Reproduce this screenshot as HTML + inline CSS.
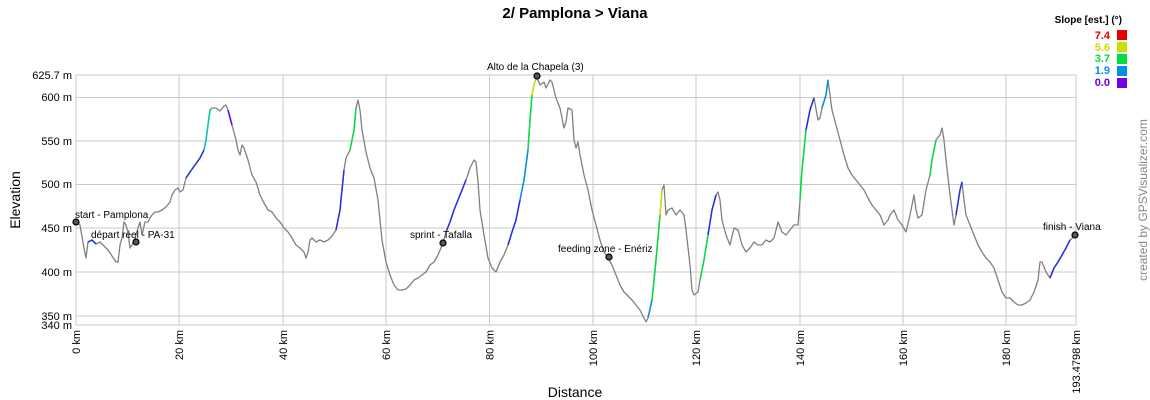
<!DOCTYPE html>
<html><head><meta charset="utf-8"><style>
html,body{margin:0;padding:0;background:#fff;}
svg{display:block;font-family:"Liberation Sans",Arial,sans-serif;}
</style></head><body>
<svg width="1150" height="400" xmlns="http://www.w3.org/2000/svg">
<rect width="1150" height="400" fill="#fff"/>
<text x="575" y="18" font-size="15" font-weight="bold" text-anchor="middle">2/ Pamplona &gt; Viana</text>
<g stroke="#c8c8c8" stroke-width="1">
<line x1="76" y1="75" x2="1076" y2="75"/><line x1="76" y1="97.5" x2="1076" y2="97.5"/><line x1="76" y1="141" x2="1076" y2="141"/><line x1="76" y1="184.5" x2="1076" y2="184.5"/><line x1="76" y1="228" x2="1076" y2="228"/><line x1="76" y1="272" x2="1076" y2="272"/><line x1="76" y1="316" x2="1076" y2="316"/><line x1="76" y1="325" x2="1076" y2="325"/>
<line x1="76" y1="75" x2="76" y2="325"/><line x1="179" y1="75" x2="179" y2="325"/><line x1="283" y1="75" x2="283" y2="325"/><line x1="386" y1="75" x2="386" y2="325"/><line x1="489.5" y1="75" x2="489.5" y2="325"/><line x1="593" y1="75" x2="593" y2="325"/><line x1="696" y1="75" x2="696" y2="325"/><line x1="800" y1="75" x2="800" y2="325"/><line x1="903" y1="75" x2="903" y2="325"/><line x1="1006" y1="75" x2="1006" y2="325"/><line x1="1076" y1="75" x2="1076" y2="325"/>
</g>
<g font-size="11" text-anchor="end">
<text x="72" y="79">625.7 m</text><text x="72" y="101">600 m</text><text x="72" y="145">550 m</text><text x="72" y="188">500 m</text><text x="72" y="232">450 m</text><text x="72" y="276">400 m</text><text x="72" y="320">350 m</text><text x="72" y="329">340 m</text>
</g>
<g font-size="11" text-anchor="end">
<text transform="translate(80,330) rotate(-90)">0 km</text>
<text transform="translate(183,330) rotate(-90)">20 km</text>
<text transform="translate(287,330) rotate(-90)">40 km</text>
<text transform="translate(390,330) rotate(-90)">60 km</text>
<text transform="translate(493.5,330) rotate(-90)">80 km</text>
<text transform="translate(597,330) rotate(-90)">100 km</text>
<text transform="translate(700,330) rotate(-90)">120 km</text>
<text transform="translate(804,330) rotate(-90)">140 km</text>
<text transform="translate(907,330) rotate(-90)">160 km</text>
<text transform="translate(1010,330) rotate(-90)">180 km</text>
<text transform="translate(1080,330) rotate(-90)">193.4798 km</text>
</g>
<text x="575" y="397" font-size="14" text-anchor="middle">Distance</text>
<text transform="translate(20,200) rotate(-90)" font-size="14" text-anchor="middle">Elevation</text>
<text transform="translate(1147,200) rotate(-90)" font-size="12" fill="#888" text-anchor="middle">created by GPSVisualizer.com</text>
<text x="1122" y="23" font-size="10" font-weight="bold" text-anchor="end">Slope [est.] (°)</text>
<g font-size="11" font-weight="bold" text-anchor="end">
<text x="1110" y="39" fill="#e80000">7.4</text><rect x="1117" y="30" width="10" height="10" fill="#e80000"/>
<text x="1110" y="51" fill="#c8e000">5.6</text><rect x="1117" y="42" width="10" height="10" fill="#c8e000"/>
<text x="1110" y="62" fill="#00dd40">3.7</text><rect x="1117" y="54" width="10" height="10" fill="#00dd40"/>
<text x="1110" y="74" fill="#0090e8">1.9</text><rect x="1117" y="66" width="10" height="10" fill="#0090e8"/>
<text x="1110" y="86" fill="#7000e8">0.0</text><rect x="1117" y="78" width="10" height="10" fill="#7000e8"/>
</g>
<polyline fill="none" stroke="#808080" stroke-width="1.3" stroke-linejoin="round" points="76,222 80,225 84,248 86,258 88,242 92,240 96,244 100,242 104,246 108,250 112,256 116,262 118,262 120,245 122,238 124,222 126,225 128,232 130,248 132,245 134,242 138,228 140,222 142,235 145,222 148,222 150,218 152,215 155,212 158,212 162,210 166,207 170,202 172,195 175,190 178,188 180,192 183,190 186,178 190,172 195,165 200,158 204,150 206,140 208,125 210,110 212,108 216,108 220,111 224,106 226,105 228,110 232,125 236,140 238,150 240,155 242,145 244,148 248,160 252,175 256,182 260,195 264,203 268,210 272,212 276,218 280,222 284,228 288,232 292,238 296,245 300,248 304,252 306,258 308,252 310,240 312,238 316,242 320,240 324,242 328,240 332,236 336,230 340,210 344,170 346,158 350,150 354,130 356,108 358,100 360,110 362,130 366,152 370,168 374,178 378,200 382,240 386,262 390,275 394,285 398,290 402,290 406,289 410,285 414,280 418,278 422,275 426,272 430,265 434,262 438,255 443,243 446,232 450,222 454,210 458,200 462,190 466,180 470,168 474,160 476,162 478,182 480,210 484,235 488,258 492,268 496,272 500,262 504,255 508,245 512,232 516,220 520,200 524,180 528,150 530,120 532,95 534,85 536,78 538,80 540,85 544,82 546,88 550,80 552,82 556,98 560,108 562,118 564,128 566,122 568,108 572,110 574,140 576,148 578,142 580,155 584,175 588,190 592,210 596,225 600,240 604,252 608,258 612,265 616,275 620,285 624,292 628,296 632,300 636,305 640,310 644,318 646,322 648,318 652,300 656,260 660,215 662,190 664,185 666,215 668,210 672,208 676,215 680,210 684,215 686,230 690,265 692,290 694,295 698,292 700,280 704,260 708,235 712,210 716,195 718,192 720,200 722,220 726,235 730,245 734,228 738,230 742,245 746,252 750,248 754,242 758,245 762,245 766,240 770,242 774,238 778,222 782,232 786,235 790,230 794,225 798,225 800,200 802,170 806,130 810,110 814,98 818,120 820,118 822,108 826,95 828,80 830,95 832,110 836,125 840,140 844,155 848,168 852,175 856,180 860,185 864,190 868,198 872,205 876,210 880,215 884,225 888,220 890,215 894,210 898,220 902,225 906,232 910,215 912,205 914,195 916,210 918,218 922,215 926,190 930,175 932,160 936,140 940,135 942,128 944,140 946,160 950,195 954,225 956,215 960,190 962,182 964,200 966,215 970,225 974,235 978,245 982,252 986,258 990,262 994,268 998,280 1002,292 1006,298 1010,298 1014,302 1018,305 1022,305 1026,303 1030,300 1034,292 1038,280 1040,262 1042,262 1046,272 1050,278 1054,268 1058,262 1062,255 1066,248 1070,240 1076,235"/>
<g fill="none" stroke-width="1.5">
<polyline stroke="#2030e8" points="88,242 92,240 96,244"/>
<polyline stroke="#2030e8" points="186,178 190,172 195,165 200,158 204,150"/>
<polyline stroke="#00c8c0" points="204,150 206,140 208,125 210,110"/>
<polyline stroke="#7000e8" points="228,110 232,125"/>
<polyline stroke="#2030e8" points="336,230 340,210 344,170"/>
<polyline stroke="#00dd40" points="350,150 354,130 356,108"/>
<polyline stroke="#2030e8" points="446,232 450,222 454,210 458,200 462,190 466,180"/>
<polyline stroke="#2030e8" points="508,245 512,232 516,220 520,200"/>
<polyline stroke="#0090e8" points="520,200 524,180 528,150"/>
<polyline stroke="#00dd40" points="528,150 530,120 532,95"/>
<polyline stroke="#c8e000" points="532,95 534,85 536,78"/>
<polyline stroke="#0090e8" points="648,318 652,300"/>
<polyline stroke="#00dd40" points="652,300 656,260 660,215"/>
<polyline stroke="#c8e000" points="660,215 662,190"/>
<polyline stroke="#00dd40" points="700,280 704,260 708,235"/>
<polyline stroke="#2030e8" points="708,235 712,210 716,195"/>
<polyline stroke="#00dd40" points="800,200 802,170 806,130"/>
<polyline stroke="#2030e8" points="806,130 810,110 814,98"/>
<polyline stroke="#0090e8" points="822,108 826,95 828,80"/>
<polyline stroke="#00dd40" points="930,175 932,160 936,140"/>
<polyline stroke="#2030e8" points="956,215 960,190 962,182"/>
<polyline stroke="#2030e8" points="1050,278 1054,268 1058,262 1062,255 1066,248 1070,240"/>
</g>
<g fill="#555" stroke="#000" stroke-width="1.2">
<circle cx="76" cy="222" r="3"/><circle cx="136" cy="242" r="3"/><circle cx="443" cy="243" r="3"/><circle cx="537" cy="76" r="3"/><circle cx="609" cy="257" r="3"/><circle cx="1075" cy="235" r="3"/>
</g>
<g font-size="10">
<text x="75" y="218">start - Pamplona</text>
<text x="91" y="238">départ réel - PA-31</text>
<text x="410" y="238">sprint - Tafalla</text>
<text x="487" y="70">Alto de la Chapela (3)</text>
<text x="558" y="252">feeding zone - Enériz</text>
<text x="1043" y="230">finish - Viana</text>
</g>
</svg>
</body></html>
